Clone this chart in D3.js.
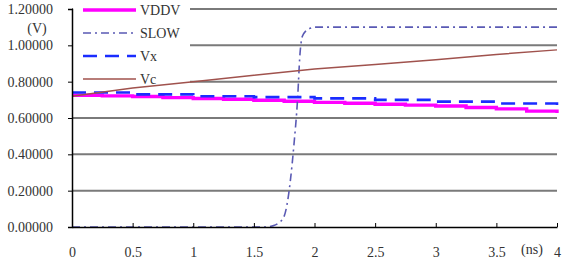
<!DOCTYPE html>
<html>
<head>
<meta charset="utf-8">
<script src="https://cdn.jsdelivr.net/npm/d3@7"></script>
<style>
    body { margin: 0; background: #fff; }
</style>
</head>
<body>
<svg id="chart" width="562" height="269"></svg>
<script>
// Values (time in ns, voltage in V)
const vddvT = [0, 0.25, 0.5, 0.75, 1, 1.25, 1.5, 1.75, 2, 2.25, 2.5, 2.75, 3, 3.25, 3.5, 3.75, 4];
const vddvV = [0.725, 0.722, 0.718, 0.712, 0.707, 0.703, 0.698, 0.692, 0.686, 0.681, 0.676, 0.671, 0.666, 0.658, 0.650, 0.638, 0.628];

const slowT = [0, 1.6, 1.65, 1.7, 1.75, 1.78, 1.8, 1.83, 1.86, 1.88, 1.9, 1.93, 1.97, 2.0, 4];
const slowV = [0, 0, 0.005, 0.02, 0.06, 0.15, 0.25, 0.45, 0.7, 0.95, 1.05, 1.08, 1.095, 1.1, 1.1];

const vxT = [0, 0.5, 1, 1.5, 2, 2.5, 3, 3.5, 4];
const vxV = [0.74, 0.73, 0.72, 0.715, 0.708, 0.70, 0.69, 0.68, 0.672];

const vcT = [0, 0.5, 1, 1.5, 2, 2.5, 3, 3.5, 4];
const vcV = [0.72, 0.765, 0.80, 0.835, 0.87, 0.895, 0.92, 0.95, 0.975];

const xTicks = [0, 0.5, 1, 1.5, 2, 2.5, 3, 3.5, 4];
const yTicks = [0, 0.2, 0.4, 0.6, 0.8, 1.0, 1.2];

const seriesNames = ["VDDV", "SLOW", "Vx", "Vc"];

const FONT = "'Liberation Serif', 'Times New Roman', serif";

let svg = d3.select("#chart").attr("font-family", FONT);

let x = d3.scaleLinear().domain([0, 4]).range([72, 557]);
let y = d3.scaleLinear().domain([0, 1.2]).range([227, 9]);

// Horizontal gridlines
svg.append("g").selectAll("line")
    .data(yTicks.filter(d => d > 0))
    .enter()
    .append("line")
    .attr("x1", x(0)).attr("x2", x(4))
    .attr("y1", d => y(d)).attr("y2", d => y(d))
    .attr("stroke", "#7a7a7a")
    .attr("stroke-width", 2);

// Series
let series = [
    {name: seriesNames[0], t: vddvT, v: vddvV, color: "#ff00ff", width: 3.4, dash: null, curve: d3.curveStepAfter},
    {name: seriesNames[1], t: slowT, v: slowV, color: "#5a5ab4", width: 1.6, dash: "8,4,2,4", curve: d3.curveMonotoneX},
    {name: seriesNames[2], t: vxT, v: vxV, color: "#1a2cff", width: 2.6, dash: "14,8", curve: d3.curveStepAfter},
    {name: seriesNames[3], t: vcT, v: vcV, color: "#a0524d", width: 1.5, dash: null, curve: d3.curveLinear}
];

// Legend box hides gridlines behind it
svg.append("rect")
    .attr("x", 73).attr("y", 0)
    .attr("width", 117).attr("height", 88)
    .attr("fill", "#fff");

let lines = svg.append("g");
series.forEach(s => {
    let pts = s.t.map((t, i) => [t, s.v[i]]);
    let gen = d3.line().x(d => x(d[0])).y(d => y(d[1])).curve(s.curve);
    lines.append("path")
        .attr("d", gen(pts))
        .attr("fill", "none")
        .attr("stroke", s.color)
        .attr("stroke-width", s.width)
        .attr("stroke-dasharray", s.dash);
});

// Axes
let yAxis = d3.axisLeft(y).tickValues(yTicks).tickFormat(d3.format(".5f")).tickSize(4).tickPadding(15);
let yG = svg.append("g").attr("transform", `translate(${x(0)},0)`).call(yAxis)
    .attr("font-family", FONT).attr("font-size", 14);
yG.select(".domain").attr("stroke", "#000").attr("stroke-width", 1.5);
yG.selectAll("text").attr("fill", "#333");

let xAxis = d3.axisBottom(x).tickValues(xTicks).tickFormat(d => d).tickSizeInner(-4).tickSizeOuter(0).tickPadding(20);
let xG = svg.append("g").attr("transform", `translate(0,${y(0)})`).call(xAxis)
    .attr("font-family", FONT).attr("font-size", 14);
xG.select(".domain").attr("stroke", "#000").attr("stroke-width", 1.5);
xG.selectAll("text").attr("fill", "#333");

// Unit labels
svg.append("text").attr("x", 37).attr("y", 33).attr("text-anchor", "middle")
    .attr("font-size", 14).attr("fill", "#333").text("(V)");
svg.append("text").attr("x", 532).attr("y", 254).attr("text-anchor", "middle")
    .attr("font-size", 14).attr("fill", "#333").text("(ns)");

// Legend
let legend = svg.append("g");
series.forEach((s, i) => {
    let ly = 10 + i * 23;
    legend.append("line")
        .attr("x1", 83).attr("x2", 136)
        .attr("y1", ly).attr("y2", ly)
        .attr("stroke", s.color)
        .attr("stroke-width", s.width)
        .attr("stroke-dasharray", s.dash);
    legend.append("text")
        .attr("x", 140).attr("y", ly + 5)
        .attr("font-size", 14)
        .attr("fill", "#333")
        .text(s.name);
});
</script>
</body>
</html>
